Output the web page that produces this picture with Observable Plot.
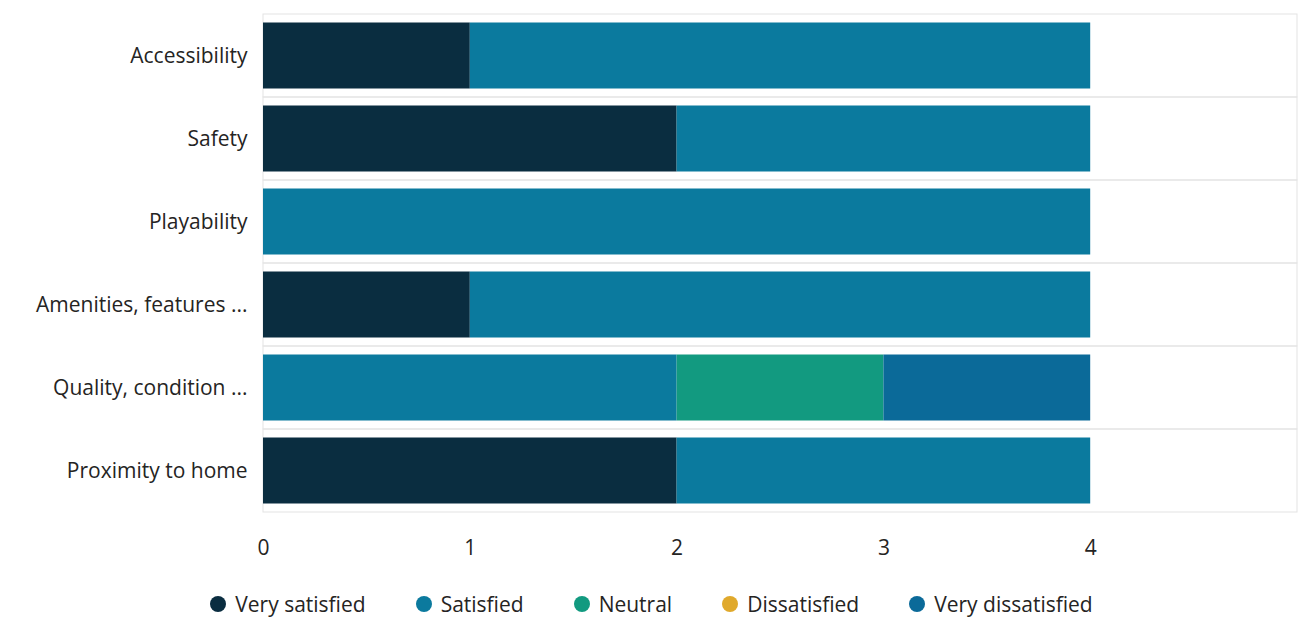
<!DOCTYPE html>
<html>
<head>
<meta charset="utf-8">
<script src="https://cdn.jsdelivr.net/npm/d3@7"></script>
<script src="https://cdn.jsdelivr.net/npm/@observablehq/plot@0.6"></script>
<style>
  html, body { margin: 0; padding: 0; background: #ffffff; }
  body { width: 1303px; height: 623px; overflow: hidden; font-family: "Open Sans", "Noto Sans", sans-serif; }
  #legend { display: flex; justify-content: center; margin-top: 25px; font-size: 21px; color: #252423; padding-left: 0px; }
  #legend .item { display: flex; align-items: center; margin: 0 25px; }
  #legend .dot { width: 16px; height: 16px; border-radius: 50%; margin-right: 9px; }
</style>
</head>
<body>
<div id="chart"></div>
<div id="legend"></div>
<script>
const categories = ["Accessibility", "Safety", "Playability", "Amenities, features ...", "Quality, condition ...", "Proximity to home"];
const levels = ["Very satisfied", "Satisfied", "Neutral", "Dissatisfied", "Very dissatisfied"];
const levelColors = ["#0a2d40", "#0b7a9e", "#129a80", "#e0a92c", "#0b6a99"];
const verySatisfied   = [1, 2, 0, 1, 0, 2];
const satisfied       = [3, 2, 4, 3, 2, 2];
const neutral         = [0, 0, 0, 0, 1, 0];
const dissatisfied    = [0, 0, 0, 0, 0, 0];
const veryDissatisfied= [0, 0, 0, 0, 1, 0];
const xTicks = [0, 1, 2, 3, 4];
const xMax = 5;

const series = [verySatisfied, satisfied, neutral, dissatisfied, veryDissatisfied];
const rows = [];
categories.forEach((c, i) => {
  levels.forEach((l, j) => {
    if (series[j][i] > 0) rows.push({category: c, level: l, value: series[j][i]});
  });
});

const plot = Plot.plot({
  width: 1303,
  height: 565,
  marginLeft: 263,
  marginRight: 6,
  marginTop: 12,
  marginBottom: 52,
  style: {fontFamily: "'Open Sans', 'Noto Sans', sans-serif", fontSize: "21px", color: "#252423", background: "#ffffff"},
  x: {domain: [0, xMax], ticks: xTicks, tickSize: 0, tickPadding: 27, label: null, tickFormat: d3.format("d")},
  y: {domain: categories, padding: 0, tickSize: 0, tickPadding: 16, label: null},
  color: {domain: levels, range: levelColors},
  marks: [
    Plot.barX(categories, {y: d => d, x1: 0, x2: xMax, fill: "none", stroke: "#e3e3e3", strokeWidth: 1}),
    Plot.barX(rows, Plot.stackX({y: "category", x: "value", fill: "level", order: levels, insetTop: 8.5, insetBottom: 8.5}))
  ]
});
document.getElementById("chart").appendChild(plot);

const colorScale = plot.scale("color");
const legend = document.getElementById("legend");
levels.forEach((l, j) => {
  const item = document.createElement("div");
  item.className = "item";
  const dot = document.createElement("span");
  dot.className = "dot";
  dot.style.background = colorScale.range[j];
  const label = document.createElement("span");
  label.textContent = l;
  item.appendChild(dot);
  item.appendChild(label);
  legend.appendChild(item);
});
</script>
</body>
</html>
